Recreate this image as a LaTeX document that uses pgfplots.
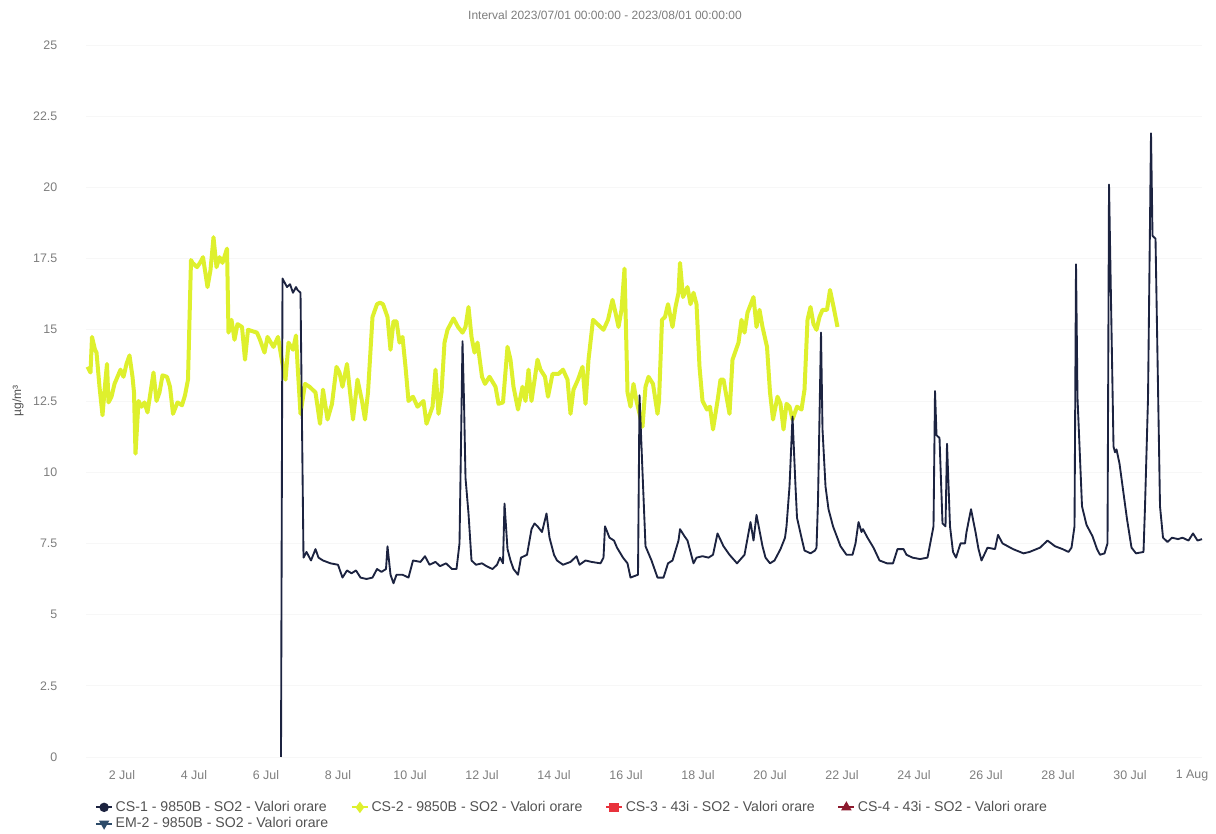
\documentclass[border=0pt]{standalone}
\usepackage{fontspec}
\setmainfont{Liberation Sans}
\usepackage{pgfplots}
\usepackage{pgfplotstable}
\pgfplotsset{compat=1.18}

\definecolor{cs1}{RGB}{28,35,64}
\definecolor{cs2}{RGB}{222,240,45}
\definecolor{cs3}{RGB}{232,50,60}
\definecolor{cs4}{RGB}{140,25,45}
\definecolor{em2}{RGB}{45,75,105}
\definecolor{lbl}{RGB}{125,125,125}

% hours since 2023/07/01 00:00, ug/m3
\pgfplotstableread{
h v
1 13.7
3 13.5
4 14.75
6 14.3
7 14.2
9 13.0
11 12.0
13 13.25
14 13.8
15 12.45
17 12.65
19 13.1
23 13.6
25 13.35
27 13.8
29 14.1
31 13.35
32 12.8
33 10.65
35 12.5
37 12.3
39 12.45
41 12.1
45 13.5
47 12.5
49 12.8
51 13.4
54 13.35
56 13.0
58 12.05
61 12.45
64 12.35
66 12.7
68 13.25
70 17.45
71 17.35
74 17.2
76 17.35
78 17.55
81 16.5
83 17.1
85 18.25
87 17.2
89 17.55
91 17.35
94 17.85
95 14.9
97 15.35
99 14.65
101 15.2
104 15.1
106 13.95
108 15.0
111 14.95
114 14.9
116 14.65
119 14.2
121 14.75
125 14.4
128 14.75
131 13.8
133 13.25
135 14.55
138 14.3
140 14.8
141 13.8
143 12.05
146 13.1
149 13.0
153 12.8
156 11.7
158 12.9
161 11.85
164 12.4
167 13.7
169 13.5
171 13.0
174 13.8
178 11.85
181 13.25
184 12.5
186 11.85
188 12.8
191 15.45
194 15.9
196 15.95
198 15.9
201 15.45
203 14.3
205 15.3
207 15.3
209 14.55
211 14.75
213 13.7
215 12.5
218 12.65
221 12.3
225 12.5
227 11.7
231 12.3
233 13.6
235 12.05
237 12.8
239 14.55
241 15.0
245 15.4
248 15.1
251 14.9
253 15.1
255 15.8
257 14.75
259 14.2
261 14.55
264 13.35
266 13.1
269 13.35
273 13.0
275 12.4
278 12.45
281 14.4
283 13.95
285 13.0
288 12.2
291 13.0
293 12.5
295 13.6
297 12.5
301 13.95
303 13.6
306 13.35
308 12.65
311 13.45
315 13.45
318 13.6
321 13.25
323 12.05
325 12.9
328 13.25
331 13.7
333 12.4
335 13.95
338 15.35
341 15.2
345 15.0
348 15.35
351 16.05
353 15.6
355 15.1
357 15.7
359 17.15
360 15.0
361 12.8
363 12.3
365 13.1
367 12.5
371 11.6
373 13.0
375 13.35
378 13.1
381 12.05
382 12.5
384 15.35
386 15.45
388 15.9
391 15.1
393 15.8
395 16.3
396 17.35
398 16.15
401 16.5
403 15.9
405 16.3
407 15.9
409 13.7
411 12.5
414 12.2
416 12.3
418 11.5
421 12.5
423 13.25
425 13.25
427 12.65
429 12.05
431 13.95
435 14.55
437 15.35
439 14.9
441 15.6
445 16.15
447 15.1
449 15.7
451 15.1
454 14.4
456 12.8
458 11.85
461 12.65
463 12.4
465 11.5
467 12.4
469 12.3
471 11.85
474 12.3
477 12.2
479 12.9
481 15.35
483 15.8
485 15.2
487 15.0
489 15.45
491 15.7
494 15.7
496 16.4
498 15.9
501 15.1
}\cstwo

\pgfplotstableread{
h v
130 0
131 16.8
134 16.5
136 16.6
138 16.3
140 16.5
141 16.4
143 16.3
145 7.0
147 7.2
150 6.9
153 7.3
155 7.0
158 6.9
163 6.8
168 6.75
171 6.3
174 6.55
177 6.45
180 6.55
183 6.3
187 6.25
191 6.3
194 6.6
197 6.5
200 6.6
201 7.4
203 6.4
205 6.1
207 6.4
211 6.4
215 6.3
218 6.9
223 6.85
226 7.05
229 6.75
233 6.85
236 6.7
240 6.8
244 6.6
247 6.6
249 7.5
250 11.0
251 14.6
252 12.5
253 9.8
255 8.55
257 6.9
260 6.75
264 6.8
267 6.7
271 6.6
274 6.75
276 7.0
278 6.8
279 8.9
281 7.3
283 6.9
285 6.6
288 6.4
290 7.0
294 7.1
297 8.0
299 8.2
301 8.1
304 7.9
307 8.55
309 7.7
312 7.1
314 6.9
318 6.75
323 6.85
327 7.05
329 6.75
333 6.9
337 6.85
343 6.8
345 7.0
346 8.1
349 7.7
352 7.6
354 7.35
358 7.0
361 6.8
363 6.3
368 6.4
369 12.7
371 10.0
373 7.4
377 6.9
381 6.3
385 6.3
388 6.8
391 6.9
395 7.6
396 8.0
399 7.75
401 7.6
405 6.8
407 7.0
411 7.05
415 7.0
418 7.1
421 7.85
425 7.4
429 7.1
434 6.8
439 7.1
443 8.25
445 7.6
447 8.5
451 7.4
453 7.0
456 6.8
459 6.9
463 7.3
466 7.7
467 8.1
469 9.5
471 11.95
473 9.5
474 8.4
477 7.7
479 7.25
483 7.15
486 7.25
487 7.35
488 9.0
490 14.9
491 11.5
493 9.5
495 8.7
498 8.1
503 7.4
507 7.1
511 7.1
513 7.5
515 8.25
517 7.9
518 8.0
521 7.7
525 7.35
529 6.9
534 6.8
538 6.8
541 7.3
545 7.3
547 7.1
551 7.0
556 6.95
561 7.0
563 7.55
565 8.1
566 12.85
567 11.3
569 11.2
571 8.2
573 8.1
574 11.0
576 8.1
578 7.2
580 7.0
583 7.5
586 7.5
587 7.9
590 8.7
593 7.9
595 7.3
597 6.9
601 7.35
606 7.3
608 7.8
611 7.5
618 7.3
625 7.15
629 7.2
636 7.35
641 7.6
646 7.4
651 7.3
655 7.2
657 7.35
659 8.1
660 17.3
661 12.6
664 8.8
667 8.15
671 7.75
674 7.3
676 7.1
679 7.15
681 7.5
682 20.1
685 10.9
686 10.7
687 10.8
689 10.3
694 8.35
697 7.35
700 7.15
705 7.2
706 8.8
708 12.6
710 21.9
711 18.3
713 18.2
716 8.8
718 7.7
721 7.55
724 7.7
728 7.65
731 7.7
735 7.6
738 7.85
741 7.6
744 7.65
}\csone

\begin{document}
\begin{tikzpicture}
\useasboundingbox (0,0) rectangle (912pt,625.5pt);
\node[text=lbl, font=\fontsize{9}{10}\selectfont] at (453.75pt,614.25pt)
  {Interval 2023/07/01 00:00:00 - 2023/08/01 00:00:00};
\begin{axis}[
  at={(64.5pt,57.75pt)}, anchor=south west,
  scale only axis, width=837pt, height=534pt,
  xmin=0, xmax=744, ymin=0, ymax=25,
  clip=false,
  axis line style={draw=none},
  tick style={draw=none},
  xtick={24,72,...,744},
  xticklabels={2 Jul,4 Jul,6 Jul,8 Jul,10 Jul,12 Jul,14 Jul,16 Jul,18 Jul,20 Jul,22 Jul,24 Jul,26 Jul,28 Jul,30 Jul,{\hspace*{-15pt}1 Aug}},
  ytick={0,2.5,...,25},
  yticklabels={0,2.5,5,7.5,10,12.5,15,17.5,20,22.5,25},
  ymajorgrids, grid style={black!3, line width=0.5pt},
  tick label style={font=\fontsize{9.3}{10}\selectfont, text=lbl},
  y tick label style={xshift=-18pt},
  x tick label style={yshift=-6.5pt},
  ylabel={µg/m³},
  ylabel style={at={(axis description cs:-0.061,0.5)}, anchor=center,
    font=\fontsize{9}{10}\selectfont, text=black!70},
  legend columns=4,
  legend cell align=left,
  legend style={at={(axis description cs:0.008,-0.058)}, anchor=north west,
    draw=none, fill=none, font=\fontsize{10.6}{12}\selectfont, text=black!68,
    /tikz/every even column/.append style={column sep=15pt},
    row sep=-1pt, inner sep=0pt},
  legend image code/.code={
    \draw[mark repeat=2,mark phase=2,#1] plot coordinates {(0pt,0pt) (6pt,0pt) (12pt,0pt)};},
]
\addplot[cs2, line width=3pt, line join=round, mark=none, forget plot] table[x=h,y=v] {\cstwo};
\addplot[cs1, line width=1.4pt, line join=round, mark=none, forget plot] table[x=h,y=v] {\csone};

\addlegendimage{cs1, line width=1.4pt, mark=*, mark size=2.8pt}
\addlegendentry{CS-1 - 9850B - SO2 - Valori orare}
\addlegendimage{cs2, line width=1.4pt, mark=diamond*, mark size=3.2pt}
\addlegendentry{CS-2 - 9850B - SO2 - Valori orare}
\addlegendimage{cs3, line width=1.4pt, mark=square*, mark size=2.8pt}
\addlegendentry{CS-3 - 43i - SO2 - Valori orare}
\addlegendimage{cs4, line width=1.4pt, mark=triangle*, mark size=3.2pt}
\addlegendentry{CS-4 - 43i - SO2 - Valori orare}
\addlegendimage{em2, line width=1.4pt, mark=triangle*, mark size=3.2pt, mark options={rotate=180}}
\addlegendentry{EM-2 - 9850B - SO2 - Valori orare}
\end{axis}
\end{tikzpicture}
\end{document}
